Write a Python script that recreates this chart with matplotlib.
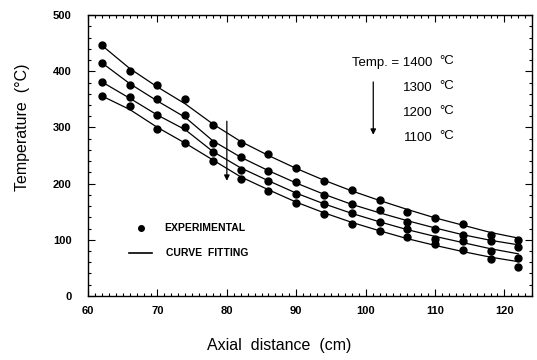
import numpy as np
import matplotlib.pyplot as plt
from matplotlib.ticker import MultipleLocator

# axial positions (cm)
x = [62, 66, 70, 74, 78, 82, 86, 90, 94, 98, 102, 106, 110, 114, 118, 122]

# experimental temperatures (C)
exp_1400 = [446, 400, 375, 351, 304, 273, 253, 227, 204, 188, 170, 150, 138, 128, 109, 99]
exp_1300 = [415, 375, 350, 322, 272, 247, 223, 202, 179, 163, 153, 132, 120, 108, 98, 87]
exp_1200 = [381, 354, 323, 301, 256, 225, 205, 181, 164, 147, 132, 120, 102, 98, 80, 68]
exp_1100 = [356, 338, 298, 272, 241, 209, 187, 166, 145, 128, 115, 105, 93, 81, 65, 52]

# curve fitting lines
fit_1400 = [446, 405, 372, 342, 306, 275, 250, 227, 206, 187, 170, 154, 139, 126, 113, 103]
fit_1300 = [415, 378, 347, 318, 276, 247, 223, 201, 181, 163, 148, 134, 121, 109, 99, 91]
fit_1200 = [381, 352, 322, 296, 257, 228, 205, 183, 164, 147, 132, 118, 106, 95, 84, 75]
fit_1100 = [356, 332, 300, 272, 242, 212, 189, 167, 148, 131, 116, 102, 90, 79, 69, 61]

temps = ['1400', '1300', '1200', '1100']
temp_label_y = [415, 371, 326, 282]

plt.rcParams['font.family'] = ['Liberation Sans', 'DejaVu Sans']

fig = plt.figure(figsize=(5.37, 3.6), dpi=100)
ax = fig.add_axes([0.164, 0.178, 0.827, 0.78])

for fit in [fit_1400, fit_1300, fit_1200, fit_1100]:
    ax.plot(x, fit, color='black', linewidth=0.9)
for exp in [exp_1400, exp_1300, exp_1200, exp_1100]:
    ax.plot(x, exp, linestyle='none', marker='o', markersize=5, color='black')

ax.set_xlim(60, 124)
ax.set_ylim(0, 500)
ax.xaxis.set_major_locator(MultipleLocator(10))
ax.xaxis.set_minor_locator(MultipleLocator(1))
ax.yaxis.set_major_locator(MultipleLocator(100))
ax.yaxis.set_minor_locator(MultipleLocator(20))
ax.tick_params(which='both', direction='in', top=True, right=True, width=0.8)
ax.tick_params(which='major', length=5, labelsize=8)
ax.tick_params(axis='y', which='major', pad=12)
ax.tick_params(axis='x', which='major', pad=7)
ax.tick_params(which='minor', length=2.5)
for lab in ax.get_xticklabels() + ax.get_yticklabels():
    lab.set_fontweight('bold')
for s in ax.spines.values():
    s.set_linewidth(1.0)

ax.set_xlabel('Axial  distance  (cm)', fontsize=11.5)
ax.set_ylabel('Temperature  (\u00b0C)', fontsize=11.5)
ax.xaxis.set_label_coords(0.43, -0.15)
ax.yaxis.set_label_coords(-0.13, 0.6)

# temperature annotation
for i, t in enumerate(temps):
    label = 'Temp. = ' + t if i == 0 else t
    ax.text(109.6, temp_label_y[i], label, fontsize=9.5, ha='right', va='center')
    ax.text(110.6, temp_label_y[i] + 3, '\u00b0C', fontsize=9.5, ha='left', va='center')
ax.annotate('', xy=(101.1, 282), xytext=(101.1, 386),
            arrowprops=dict(arrowstyle='-|>', color='black', lw=0.9, mutation_scale=8))
ax.annotate('', xy=(80, 200), xytext=(80, 316),
            arrowprops=dict(arrowstyle='-|>', color='black', lw=0.9, mutation_scale=8))

# legend drawn by hand
ax.plot([67.7], [121], linestyle='none', marker='o', markersize=4, color='black')
ax.text(71, 121, 'EXPERIMENTAL', fontsize=7.5, fontweight='bold', va='center')
ax.plot([65.9, 69.2], [77, 77], color='black', linewidth=1.2)
ax.text(71.2, 77, 'CURVE  FITTING', fontsize=7.5, fontweight='bold', va='center')

fig.savefig('out.png', dpi=100)
